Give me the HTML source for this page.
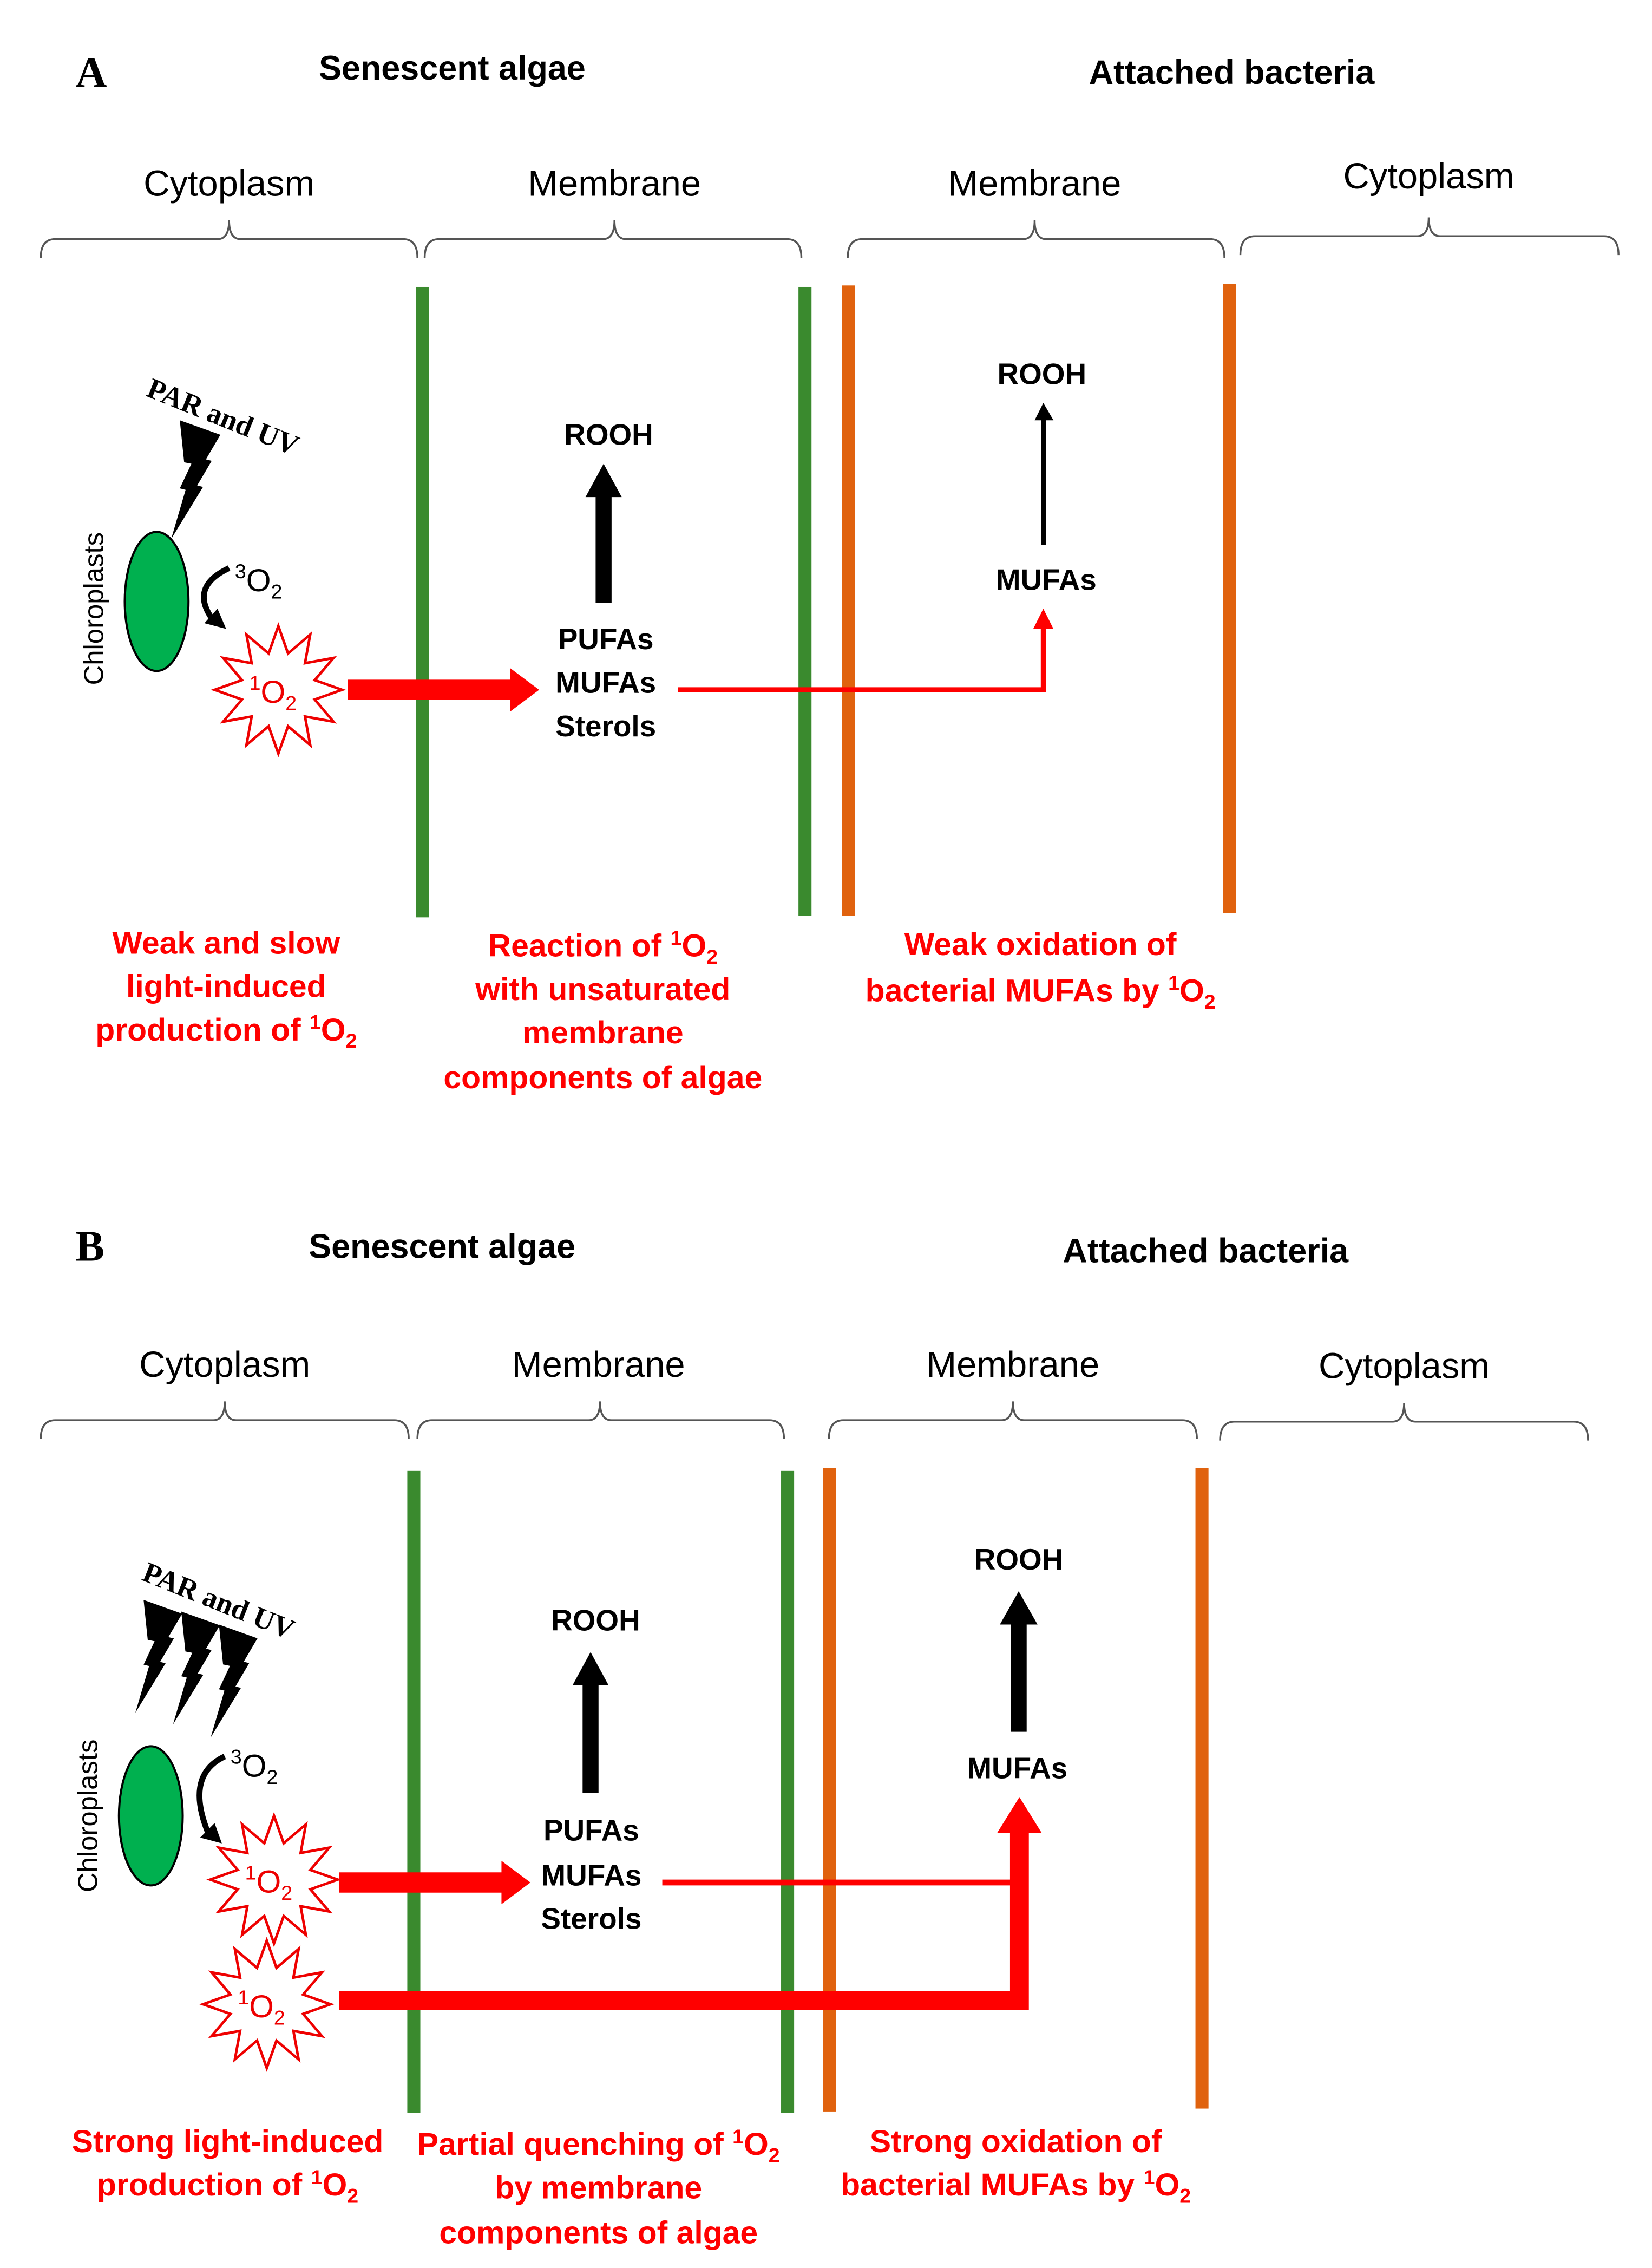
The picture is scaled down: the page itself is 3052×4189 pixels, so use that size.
<!DOCTYPE html>
<html><head><meta charset="utf-8"><style>
html,body{margin:0;padding:0;background:#fff}
svg{display:block}
.t{font-family:"Liberation Sans",sans-serif}
.b{font-family:"Liberation Sans",sans-serif;font-weight:bold}
.r{font-family:"Liberation Sans",sans-serif;font-weight:bold;fill:#f00}
</style></head><body>
<svg width="3052" height="4189" viewBox="0 0 1140 1565" xmlns="http://www.w3.org/2000/svg">
<defs>
<polygon id="star" points="44,0 25.1,6.7 38.1,22 18.4,18.4 22,38.1 6.7,25.1 0,44 -6.7,25.1 -22,38.1 -18.4,18.4 -38.1,22 -25.1,6.7 -44,0 -25.1,-6.7 -38.1,-22 -18.4,-18.4 -22,-38.1 -6.7,-25.1 0,-44 6.7,-25.1 22,-38.1 18.4,-18.4 38.1,-22 25.1,-6.7" fill="#fff" stroke="#e00" stroke-width="1.8"/>
<path id="bolt" d="M0,0 L28,10 L18,27 L22,28 L12,45 L16,46 L-6,82 L4,48 L0,47 L8,30 L3,29 Z" fill="#000"/>
</defs>
<rect width="1140" height="1565" fill="#fff"/>

<!-- ================= PANEL A ================= -->
<text x="52" y="60" font-family="Liberation Serif,serif" font-weight="bold" font-size="30">A</text>
<text x="312" y="55" class="b" font-size="23.5" text-anchor="middle">Senescent algae</text>
<text x="850" y="58" class="b" font-size="23.5" text-anchor="middle">Attached bacteria</text>

<g class="t" font-size="25" text-anchor="middle">
<text x="158" y="135">Cytoplasm</text>
<text x="424" y="135">Membrane</text>
<text x="714" y="135">Membrane</text>
<text x="986" y="130">Cytoplasm</text>
</g>
<g fill="none" stroke="#555" stroke-width="1.3">
<path d="M28,178 Q28,165 38,165 L150,165 Q158,165 158,152 Q158,165 166,165 L278,165 Q288,165 288,178"/>
<path d="M293,178 Q293,165 303,165 L416,165 Q424,165 424,152 Q424,165 432,165 L543,165 Q553,165 553,178"/>
<path d="M585,178 Q585,165 595,165 L706,165 Q714,165 714,152 Q714,165 722,165 L835,165 Q845,165 845,178"/>
<path d="M856,176 Q856,163 866,163 L978,163 Q986,163 986,150 Q986,163 994,163 L1107,163 Q1117,163 1117,176"/>
</g>

<rect x="287" y="198" width="9" height="435" fill="#3a8a2e"/>
<rect x="551" y="198" width="9" height="434" fill="#3a8a2e"/>
<rect x="581" y="197" width="9" height="435" fill="#e0620e"/>
<rect x="844" y="196" width="9" height="434" fill="#e0620e"/>

<text transform="translate(100,273) rotate(22)" font-family="Liberation Serif,serif" font-weight="bold" font-size="20">PAR and UV</text>
<use href="#bolt" transform="translate(124,290)"/>
<ellipse cx="108" cy="415" rx="22" ry="48" fill="#00b04f" stroke="#000" stroke-width="1.5"/>
<text transform="translate(71,420) rotate(-90)" class="t" font-size="19" text-anchor="middle">Chloroplasts</text>
<text x="162" y="408" class="t" font-size="22"><tspan font-size="14" dy="-9">3</tspan><tspan dy="9">O</tspan><tspan font-size="14" dy="5">2</tspan></text>
<path d="M158,392 Q130,405 147,428" fill="none" stroke="#000" stroke-width="4"/>
<polygon points="141,430 156,434 150,420" fill="#000"/>
<use href="#star" transform="translate(192,476)"/>
<text x="172" y="485" class="t" font-size="22" fill="#e00"><tspan font-size="14" dy="-9">1</tspan><tspan dy="9">O</tspan><tspan font-size="14" dy="5">2</tspan></text>

<rect x="240" y="469" width="114" height="14" fill="#f00"/>
<polygon points="352,461 352,491 372,476" fill="#f00"/>

<g class="b" font-size="20.5" text-anchor="middle">
<text x="418" y="448">PUFAs</text>
<text x="418" y="478">MUFAs</text>
<text x="418" y="508">Sterols</text>
<text x="420" y="307">ROOH</text>
<text x="719" y="265">ROOH</text>
<text x="722" y="407">MUFAs</text>
</g>
<rect x="411" y="340" width="11" height="76" fill="#000"/>
<polygon points="404,343 429,343 416.5,320" fill="#000"/>
<rect x="718.5" y="288" width="3.5" height="88" fill="#000"/>
<polygon points="714,290 727,290 720,278" fill="#000"/>

<polyline points="468,476 720,476 720,432" fill="none" stroke="#f00" stroke-width="3.5"/>
<polygon points="713,434 727,434 720,420" fill="#f00"/>

<g class="r" font-size="22" text-anchor="middle">
<text x="156" y="658">Weak and slow</text>
<text x="156" y="688">light-induced</text>
<text x="156" y="718">production of <tspan font-size="14" dy="-8">1</tspan><tspan dy="8">O</tspan><tspan font-size="14" dy="5">2</tspan></text>
<text x="416" y="660">Reaction of <tspan font-size="14" dy="-8">1</tspan><tspan dy="8">O</tspan><tspan font-size="14" dy="5">2</tspan></text>
<text x="416" y="690">with unsaturated</text>
<text x="416" y="720">membrane</text>
<text x="416" y="751">components of algae</text>
<text x="718" y="659">Weak oxidation of</text>
<text x="718" y="691">bacterial MUFAs by <tspan font-size="14" dy="-8">1</tspan><tspan dy="8">O</tspan><tspan font-size="14" dy="5">2</tspan></text>
</g>

<!-- ================= PANEL B ================= -->
<text x="52" y="870" font-family="Liberation Serif,serif" font-weight="bold" font-size="30">B</text>
<text x="305" y="868" class="b" font-size="23.5" text-anchor="middle">Senescent algae</text>
<text x="832" y="871" class="b" font-size="23.5" text-anchor="middle">Attached bacteria</text>

<g class="t" font-size="25" text-anchor="middle">
<text x="155" y="950">Cytoplasm</text>
<text x="413" y="950">Membrane</text>
<text x="699" y="950">Membrane</text>
<text x="969" y="951">Cytoplasm</text>
</g>
<g fill="none" stroke="#555" stroke-width="1.3">
<path d="M28,993 Q28,980 38,980 L147,980 Q155,980 155,967 Q155,980 163,980 L272,980 Q282,980 282,993"/>
<path d="M288,993 Q288,980 298,980 L406,980 Q414,980 414,967 Q414,980 422,980 L531,980 Q541,980 541,993"/>
<path d="M572,993 Q572,980 582,980 L691,980 Q699,980 699,967 Q699,980 707,980 L816,980 Q826,980 826,993"/>
<path d="M842,994 Q842,981 852,981 L961,981 Q969,981 969,968 Q969,981 977,981 L1086,981 Q1096,981 1096,994"/>
</g>

<rect x="281" y="1015" width="9" height="443" fill="#3a8a2e"/>
<rect x="539" y="1015" width="9" height="443" fill="#3a8a2e"/>
<rect x="568" y="1013" width="9" height="444" fill="#e0620e"/>
<rect x="825" y="1013" width="9" height="442" fill="#e0620e"/>

<text transform="translate(97,1090) rotate(22)" font-family="Liberation Serif,serif" font-weight="bold" font-size="20">PAR and UV</text>
<use href="#bolt" transform="translate(99,1104) scale(0.95)"/>
<use href="#bolt" transform="translate(125,1112) scale(0.95)"/>
<use href="#bolt" transform="translate(151,1121) scale(0.95)"/>
<ellipse cx="104" cy="1253" rx="22" ry="48" fill="#00b04f" stroke="#000" stroke-width="1.5"/>
<text transform="translate(67,1253) rotate(-90)" class="t" font-size="19" text-anchor="middle">Chloroplasts</text>
<text x="159" y="1226" class="t" font-size="22"><tspan font-size="14" dy="-9">3</tspan><tspan dy="9">O</tspan><tspan font-size="14" dy="5">2</tspan></text>
<path d="M155,1212 Q127,1225 144,1266" fill="none" stroke="#000" stroke-width="4"/>
<polygon points="138,1268 153,1272 148,1258" fill="#000"/>
<use href="#star" transform="translate(189,1297)"/>
<text x="169" y="1306" class="t" font-size="22" fill="#e00"><tspan font-size="14" dy="-9">1</tspan><tspan dy="9">O</tspan><tspan font-size="14" dy="5">2</tspan></text>
<use href="#star" transform="translate(184,1383)"/>
<text x="164" y="1392" class="t" font-size="22" fill="#e00"><tspan font-size="14" dy="-9">1</tspan><tspan dy="9">O</tspan><tspan font-size="14" dy="5">2</tspan></text>

<rect x="234" y="1292" width="114" height="14" fill="#f00"/>
<polygon points="346,1284 346,1314 366,1299" fill="#f00"/>

<g class="b" font-size="20.5" text-anchor="middle">
<text x="408" y="1270">PUFAs</text>
<text x="408" y="1301">MUFAs</text>
<text x="408" y="1331">Sterols</text>
<text x="411" y="1125">ROOH</text>
<text x="703" y="1083">ROOH</text>
<text x="702" y="1227">MUFAs</text>
</g>
<rect x="402" y="1160" width="11" height="77" fill="#000"/>
<polygon points="395,1163 420,1163 407.5,1140" fill="#000"/>
<rect x="697.5" y="1118" width="11" height="77" fill="#000"/>
<polygon points="690,1121 716,1121 703,1098" fill="#000"/>

<line x1="457" y1="1299" x2="700" y2="1299" stroke="#f00" stroke-width="4"/>
<rect x="234" y="1374" width="473" height="13" fill="#f00"/>
<rect x="697" y="1262" width="13" height="125" fill="#f00"/>
<polygon points="688,1265 719,1265 703.5,1240" fill="#f00"/>

<g class="r" font-size="22" text-anchor="middle">
<text x="157" y="1485">Strong light-induced</text>
<text x="157" y="1515">production of <tspan font-size="14" dy="-8">1</tspan><tspan dy="8">O</tspan><tspan font-size="14" dy="5">2</tspan></text>
<text x="413" y="1487">Partial quenching of <tspan font-size="14" dy="-8">1</tspan><tspan dy="8">O</tspan><tspan font-size="14" dy="5">2</tspan></text>
<text x="413" y="1517">by membrane</text>
<text x="413" y="1548">components of algae</text>
<text x="701" y="1485">Strong oxidation of</text>
<text x="701" y="1515">bacterial MUFAs by <tspan font-size="14" dy="-8">1</tspan><tspan dy="8">O</tspan><tspan font-size="14" dy="5">2</tspan></text>
</g>
</svg>
</body></html>
